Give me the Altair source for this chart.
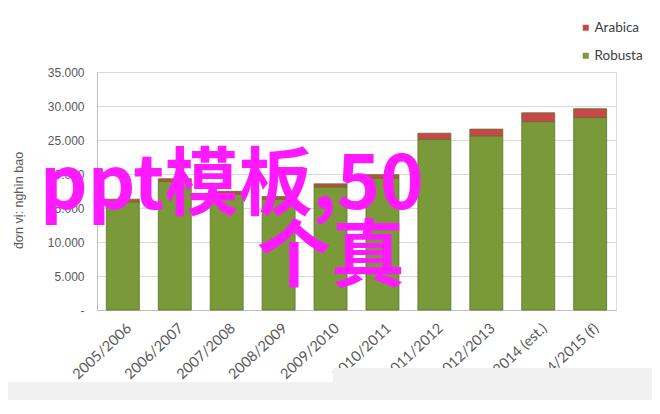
import altair as alt
import pandas as pd

seasons = ["2005/2006", "2006/2007", "2007/2008", "2008/2009", "2009/2010",
           "2010/2011", "2011/2012", "2012/2013", "2013/2014 (est.)", "2014/2015 (f)"]
robusta = [15900, 18900, 17050, 16300, 18100, 19400, 25100, 25600, 27700, 28300]
arabica = [400, 400, 400, 400, 450, 500, 900, 1000, 1300, 1300]
series = ["Arabica", "Robusta"]
series_colors = ["#c9474a", "#7a9a3a"]
y_ticks = [0, 5000, 10000, 15000, 20000, 25000, 30000, 35000]
y_title = "đơn vị: nghìn bao"
watermark_lines = ["ppt模板,50", "个真"]

rows = []
for s, r, a in zip(seasons, robusta, arabica):
    rows.append({"season": s, "type": "Robusta", "value": r, "ord": 0})
    rows.append({"season": s, "type": "Arabica", "value": a, "ord": 1})
df = pd.DataFrame(rows)

NB = "\u00a0"
label_expr = ("datum.value == 0 ? '-" + NB * 5 + "' : "
              "replace(format(datum.value, ','), ',', '.')")

bars = alt.Chart(df).mark_bar(stroke="#5b7527", strokeWidth=0.8).encode(
    x=alt.X("season:N", sort=seasons,
            scale=alt.Scale(paddingInner=0.365, paddingOuter=0.18),
            axis=alt.Axis(title=None, labelAngle=-43, labelAlign="right",
                          labelBaseline="top", labelPadding=11, labelOffset=2,
                          labelFont="Lato", labelFontSize=14.5, labelColor="#595959",
                          labelOverlap=False, labelBound=False, labelFlush=False,
                          ticks=False, domainColor="#bfbfbf", grid=False)),
    y=alt.Y("sum(value):Q", stack="zero",
            scale=alt.Scale(domain=[0, 35000], nice=False),
            axis=alt.Axis(title=y_title, values=y_ticks, labelExpr=label_expr,
                          labelFont="Liberation Sans", labelFontSize=12,
                          labelColor="#595959", labelPadding=13, ticks=False,
                          domainColor="#bfbfbf", gridColor="#d9d9d9",
                          titleFont="Liberation Sans", titleFontSize=12.5,
                          titleFontWeight="normal", titleColor="#595959",
                          titleAngle=270, titleX=-79, titleY=128,
                          titleAlign="center", titleBaseline="middle")),
    color=alt.Color("type:N",
                    scale=alt.Scale(domain=series, range=series_colors),
                    legend=alt.Legend(title=None, orient="none", legendX=482, legendY=-51,
                                      symbolType="square", symbolSize=36,
                                      symbolStrokeWidth=0, labelFont="Lato",
                                      labelFontSize=13.5, labelColor="#404040",
                                      rowPadding=13, labelOffset=2)),
    order=alt.Order("ord:Q"),
)

blank = alt.Data(values=[{}])
band_low = alt.Chart(blank).mark_rect(color="#f1f1f1").encode(
    x=alt.value(-97), x2=alt.value(563), y=alt.value(310), y2=alt.value(345))
band_up = alt.Chart(blank).mark_rect(color="#f1f1f1").encode(
    x=alt.value(236), x2=alt.value(563), y=alt.value(296), y2=alt.value(311))

wm_style = dict(font="Noto Sans CJK SC", fontSize=74, fontWeight="bold",
                color="#ff19ff", align="left", baseline="alphabetic")
wm1 = alt.Chart(blank).mark_text(**wm_style).encode(
    x=alt.value(-57), y=alt.value(137), text=alt.value(watermark_lines[0]))
wm2 = alt.Chart(blank).mark_text(**wm_style).encode(
    x=alt.value(160), y=alt.value(209), text=alt.value(watermark_lines[1]))

chart = alt.layer(bars, band_low, band_up, wm1, wm2).properties(
    width=519, height=238,
    autosize=alt.AutoSizeParams(type="none"),
    padding={"left": 89, "top": 64, "right": 36, "bottom": 90},
).configure_view(stroke=None).configure(background="white")

chart.save("out.html", embed_options={"renderer": "svg", "actions": False})
